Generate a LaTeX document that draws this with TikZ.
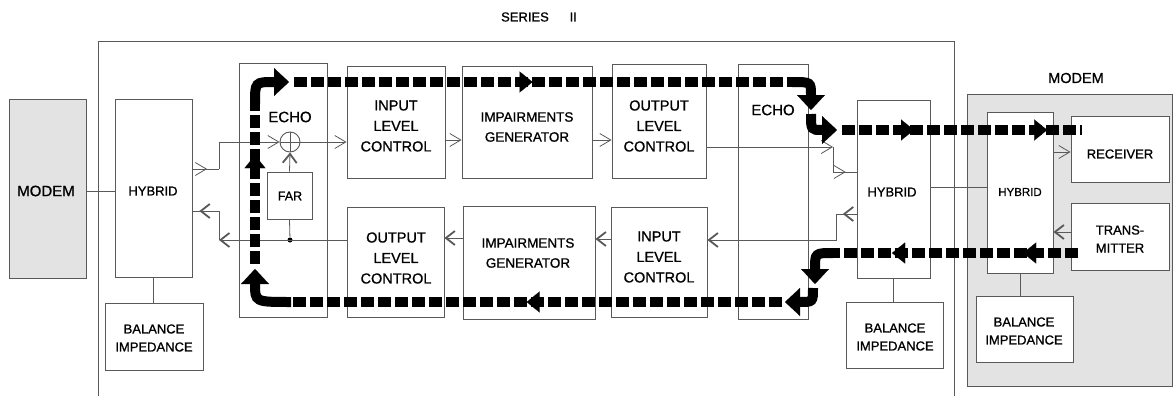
\documentclass[tikz,border=0pt]{standalone}
\usepackage{fontspec}
\setmainfont{Liberation Sans}[FakeBold=0.9]
\usetikzlibrary{arrows.meta,decorations.markings,calc}
\definecolor{bc}{gray}{0.35}
\definecolor{mfill}{gray}{0.89}
\newcommand{\mkbox}[6]{\node[box,#6,minimum width={#4-#2},minimum height={#5-#3}] (#1) at ({(#2+#4)/2},{(#3+#5)/2}) {};}
\tikzset{
  thinA/.tip={Straight Barb[length=11pt,width=13pt,line width=0.8pt]},
  boldA/.tip={Straight Barb[length=9pt,width=14pt,line width=1.8pt]},
  bigA/.tip={Triangle[length=15pt,width=28pt,line width=0.1pt]},
  midA/.tip={Triangle[length=13pt,width=21pt,line width=0.1pt]},
  box/.style={draw=bc,line width=0.9pt,inner sep=0pt,rectangle},
  txt/.style={align=center,inner sep=0pt,font=\fontsize{14.5}{20.5}\selectfont},
  smalltxt/.style={align=center,inner sep=0pt,font=\fontsize{13}{18}\selectfont},
  conn/.style={draw=bc,line width=0.8pt},
  flow/.style={line width=10pt,dash pattern=on 13pt off 4pt},
  curv/.style={line width=10pt,-bigA},
  midtip/.style 2 args={postaction={decorate,decoration={markings,mark=at position #1 with {\arrow{#2}}}}},
}
\begin{document}
\begin{tikzpicture}[x=1pt,y=-1pt]
\useasboundingbox (0,0) rectangle (1173,396);
\fill[white] (0,0) rectangle (1173,396);
% series II frame
\draw[draw=bc,line width=0.9pt] (98,396) -- (98,41) -- (954,41) -- (954,396);
\node[smalltxt] (series) at (539,17) {SERIES\hspace{1.6em}II};
% left modem side
\mkbox{modemL}{9}{99}{86}{278}{fill=mfill}
\node[txt,font=\fontsize{15}{18}\selectfont] (tmodemL) at (46,191) {MODEM};
\mkbox{hybL}{115}{99}{192}{277}{}
\node[smalltxt] (thybL) at (153,191) {HYBRID};
\mkbox{balL}{105}{303}{203}{370}{}
\node[smalltxt] (tbalL) at (154,338) {BALANCE\\IMPEDANCE};
% echo left
\mkbox{echoL}{239}{63}{327}{317}{}
\node[txt,font=\fontsize{15}{18}\selectfont] (techoL) at (290,117) {ECHO};
\mkbox{far}{267}{172}{312}{219}{}
\node[txt,font=\fontsize{12.5}{15}\selectfont] (tfar) at (290,196) {FAR};
\node[circle,draw=bc,line width=0.9pt,minimum size=20pt,inner sep=0pt] (sum) at (290,142) {};
\draw[conn] (sum.north) -- (sum.south);
\draw[conn] (sum.west) -- (sum.east);
\node[circle,fill=black,inner sep=0pt,minimum size=5pt] (dot) at (290,240) {};
% top row
\mkbox{ilcT}{347}{66}{445}{178}{}
\node[txt] (tilcT) at (396,126) {INPUT\\LEVEL\\CONTROL};
\mkbox{igT}{462}{66}{592}{178}{}
\node[txt,font=\fontsize{13.5}{20}\selectfont] (tigT) at (527,127) {IMPAIRMENTS\\GENERATOR};
\mkbox{olcT}{612}{64}{706}{178}{}
\node[txt] (tolcT) at (659,126) {OUTPUT\\LEVEL\\CONTROL};
% bottom row
\mkbox{olcB}{347}{207}{444}{317}{}
\node[txt] (tolcB) at (396,258) {OUTPUT\\LEVEL\\CONTROL};
\mkbox{igB}{463}{206}{595}{319}{}
\node[txt,font=\fontsize{13.5}{20}\selectfont] (tigB) at (528,253) {IMPAIRMENTS\\GENERATOR};
\mkbox{ilcB}{611}{207}{707}{317}{}
\node[txt] (tilcB) at (659,257) {INPUT\\LEVEL\\CONTROL};
% echo right
\mkbox{echoR}{738}{64}{808}{319}{}
\node[txt,font=\fontsize{15}{18}\selectfont] (techoR) at (773,110) {ECHO};
\mkbox{hybR}{857}{100}{930}{278}{}
\node[smalltxt] (thybR) at (892,192) {HYBRID};
\mkbox{balR}{846}{302}{943}{368}{}
\node[smalltxt] (tbalR) at (895,337) {BALANCE\\IMPEDANCE};
% right modem
\mkbox{modemR}{967}{94}{1172}{386}{fill=mfill}
\node[txt,font=\fontsize{14.5}{18}\selectfont] (tmodemR) at (1076,78) {MODEM};
\mkbox{hybM}{987}{112}{1053}{273}{fill=white}
\node[txt,font=\fontsize{11.5}{14}\selectfont] (thybM) at (1020,192) {HYBRID};
\mkbox{rec}{1071}{116}{1169}{182}{fill=white}
\node[smalltxt] (trec) at (1120,154) {RECEIVER};
\mkbox{tra}{1071}{203}{1169}{270}{fill=white}
\node[smalltxt] (ttra) at (1120,239) {TRANS-\\MITTER};
\mkbox{balM}{976}{296}{1073}{362}{fill=white}
\node[smalltxt] (tbalM) at (1024,331) {BALANCE\\IMPEDANCE};
% helper coordinates
\coordinate (y191) at (0,191);
\coordinate (a1) at (219,169);
\coordinate (a2) at (219,142);
\coordinate (a3) at (219,240);
\coordinate (a4) at (219,211);
\coordinate (y140) at (0,140);
\coordinate (a5) at (833,147);
\coordinate (a6) at (833,172);
\coordinate (a7) at (836,214);
\coordinate (a8) at (836,240);
\coordinate (y239) at (0,239);
\coordinate (y238) at (0,238);
\coordinate (y187) at (0,187);
\coordinate (y152) at (0,152);
\coordinate (y232) at (0,232);
% thin connectors
\draw[conn] (modemL.east |- y191) -- (hybL.west |- y191);
\draw[conn,midtip={0.55}{thinA}] (hybL.east |- a1) -- (a1);
\draw[conn,-thinA] (a1) -- (a2) -- (sum.west);
\draw[conn,-thinA] (sum.east) -- (sum.east -| ilcT.west);
\draw[conn,-boldA] (far.north) -- (sum.south);
\draw[conn] (far.south) -- (dot);
\draw[conn,-boldA] (olcB.west |- dot) -- (a3);
\draw[conn] (a3) -- (a4);
\draw[conn,midtip={0.74}{boldA}] (a4) -- (hybL.east |- a4);
\draw[conn,-thinA] (ilcT.east |- y140) -- (igT.west |- y140);
\draw[conn,-thinA] (igT.east |- y140) -- (olcT.west |- y140);
\draw[conn,-thinA] (olcT.east |- a5) -- (a5);
\draw[conn] (a5) -- (a6);
\draw[conn,midtip={0.54}{thinA}] (a6) -- (hybR.west |- a6);
\draw[conn,midtip={0.67}{boldA}] (hybR.west |- a7) -- (a7);
\draw[conn,-boldA] (a7) -- (a8) -- (ilcB.east |- a8);
\draw[conn,-boldA] (ilcB.west |- y239) -- (igB.east |- y239);
\draw[conn,-boldA] (igB.west |- y238) -- (olcB.east |- y238);
\draw[conn] (hybR.east |- y187) -- (hybM.west |- y187);
\draw[conn] (hybL.south) -- (hybL.south |- balL.north);
\draw[conn] (hybR.south) -- (hybR.south |- balR.north);
\draw[conn] (hybM.south) -- (hybM.south |- balM.north);
\draw[conn,-thinA] (hybM.east |- y152) -- (rec.west |- y152);
\draw[conn,-boldA] (tra.west |- y232) -- (hybM.east |- y232);
% thick flow coordinates
\coordinate (fA) at (255,264);
\coordinate (fB) at (255,104);
\coordinate (fC) at (289,82);
\coordinate (fD) at (294,82);
\coordinate (fE) at (792,82);
\coordinate (fF) at (811,110);
\coordinate (fG) at (811,114);
\coordinate (fH) at (837,130);
\coordinate (fI) at (842,130);
\coordinate (fJ) at (1082,130);
\coordinate (gA) at (1078,253);
\coordinate (gB) at (833,253);
\coordinate (gC) at (815,284);
\coordinate (gD) at (813,288);
\coordinate (gE) at (785,302);
\coordinate (gF) at (782,302);
\coordinate (gG) at (291,302);
\coordinate (gH) at (255,269);
% thick flows
\draw[flow,midtip={0.68}{midA}] (fA) -- (fB);
\draw[curv] (fB) .. controls (255,82) .. (fC);
\draw[flow,midtip={0.479}{midA}] (fD) -- (fE);
\draw[curv] (fE) .. controls (811,82) .. (fF);
\draw[curv] (fG) .. controls (811,130) .. (fH);
\draw[flow,midtip={0.30}{midA},midtip={0.855}{midA}] (fI) -- (fJ);
\draw[flow,midtip={0.224}{midA},midtip={0.759}{midA}] (gA) -- (gB);
\draw[curv] (gB) .. controls (815,253) .. (gC);
\draw[curv] (gD) .. controls (813,302) .. (gE);
\draw[flow,midtip={0.52}{midA}] (gF) -- (gG);
\draw[curv] (gG) .. controls (255,302) .. (gH);
\end{tikzpicture}
\end{document}
